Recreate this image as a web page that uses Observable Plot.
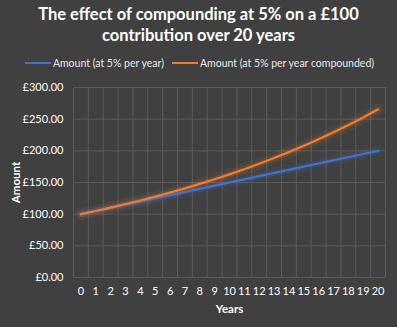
<!DOCTYPE html>
<html>
<head>
<meta charset="utf-8">
<script src="https://cdn.jsdelivr.net/npm/d3@7"></script>
<script src="https://cdn.jsdelivr.net/npm/@observablehq/plot@0.6"></script>
<style>
  html, body { margin: 0; padding: 0; background: #404040; width: 397px; height: 327px; overflow: hidden; }
  body { font-family: Lato, "Open Sans", sans-serif; color: #ffffff; }
  #title { text-align: center; font-weight: bold; font-size: 16.5px; line-height: 21px; padding-top: 4px; height: 45px; }
  #legend { display: flex; justify-content: center; align-items: center; font-size: 10.5px; height: 28px; color: #e8e8e8; margin-left: 2px;}
  .item { display: flex; align-items: center; margin: 0 4px; }
  .sw { display: inline-block; width: 26px; height: 2px; margin-right: 2px; }
  #chart { position: absolute; left: 0; top: 80px; }
</style>
</head>
<body>
<div id="title">The effect of compounding at 5% on a £100<br>contribution over 20 years</div>
<div id="legend"></div>
<div id="chart"></div>
<script>
const years = [0,1,2,3,4,5,6,7,8,9,10,11,12,13,14,15,16,17,18,19,20];
const simpleAmount = [100,105,110,115,120,125,130,135,140,145,150,155,160,165,170,175,180,185,190,195,200];
const compoundAmount = [100,105,110.25,115.76,121.55,127.63,134.01,140.71,147.75,155.13,162.89,171.03,179.59,188.56,197.99,207.89,218.29,229.2,240.66,252.7,265.33];
const seriesNames = ["Amount (at 5% per year)", "Amount (at 5% per year compounded)"];
const seriesColors = ["#4472C4", "#ED7D31"];
const yTicks = [0, 50, 100, 150, 200, 250, 300];

const data = [];
years.forEach((y, i) => {
  data.push({year: y, amount: simpleAmount[i], series: seriesNames[0]});
  data.push({year: y, amount: compoundAmount[i], series: seriesNames[1]});
});
const boundaries = years.map(y => y - 0.5).concat([years[years.length - 1] + 0.5]);

const legend = document.getElementById("legend");
seriesNames.forEach((n, i) => {
  const it = document.createElement("div");
  it.className = "item";
  it.innerHTML = `<span class="sw" style="background:${seriesColors[i]}"></span><span>${n}</span>`;
  legend.appendChild(it);
});

const fmt = d => "£" + d3.format(".2f")(d);
const colorScale = {domain: seriesNames, range: seriesColors};

const chart = Plot.plot({
  width: 397,
  height: 247,
  marginTop: 7,
  marginBottom: 50,
  marginLeft: 73,
  marginRight: 12,
  style: {background: "transparent", color: "#ffffff", fontFamily: "Lato, 'Open Sans', sans-serif", fontSize: "11px"},
  x: {domain: [-0.5, 20.5], ticks: years, tickFormat: d => String(d), tickSize: 0, tickPadding: 10, label: "Years", labelArrow: "none", labelAnchor: "center", labelOffset: 35},
  y: {domain: [0, 300], ticks: yTicks, tickFormat: fmt, tickSize: 0, tickPadding: 10, label: "Amount", labelArrow: "none", labelAnchor: "center", labelOffset: 62},
  color: colorScale,
  marks: [
    Plot.ruleY(yTicks, {stroke: "#5a5a5a", strokeWidth: 1}),
    Plot.ruleX(boundaries, {y1: 0, y2: 300, stroke: "#5a5a5a", strokeWidth: 1}),
    Plot.line(data, {x: "year", y: "amount", z: "series", stroke: "series", strokeWidth: 12, strokeOpacity: 0.07, curve: "monotone-x"}),
    Plot.line(data, {x: "year", y: "amount", z: "series", stroke: "series", strokeWidth: 6, strokeOpacity: 0.14, curve: "monotone-x"}),
    Plot.line(data, {x: "year", y: "amount", z: "series", stroke: "series", strokeWidth: 2.2, curve: "monotone-x"})
  ]
});
document.getElementById("chart").appendChild(chart);
d3.select(chart).selectAll("[aria-label='x-axis label'] text, [aria-label='y-axis label'] text")
  .style("font-weight", "bold").style("font-size", "11.5px")
  .each(function() { this.textContent = this.textContent.replace(/\s*[→↑←↓]\s*/g, ""); });
</script>
</body>
</html>
